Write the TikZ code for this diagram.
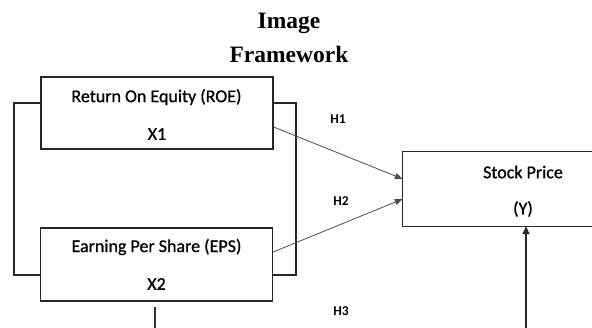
\documentclass[tikz,border=0pt]{standalone}
\usepackage{fontspec}
\setmainfont{Carlito}
\newfontfamily\boxfont[FakeBold=0.9]{Carlito}
\newfontfamily\titlefont{Liberation Serif}
\usetikzlibrary{arrows.meta,calc}
\tikzset{
  varbox/.style={draw=black!85, line width=1.2pt, minimum width=232pt, minimum height=72pt, inner sep=0pt},
  boxtext/.style={font=\boxfont\fontsize{18}{20}\selectfont, inner sep=0pt},
  hlabel/.style={font=\bfseries\fontsize{13.5}{15}\selectfont, inner sep=0pt},
  titletext/.style={font=\titlefont\bfseries\fontsize{23.5}{26}\selectfont, inner sep=0pt},
  bracket/.style={draw=black!85, line width=1.2pt},
  thinarrow/.style={draw=black!70, line width=0.8pt, -{Triangle[length=8pt,width=6pt]}},
  thickarrow/.style={draw=black!85, line width=1.4pt, -{Triangle[length=8pt,width=7pt]}}
}
\begin{document}
\begin{tikzpicture}[x=1pt,y=-1pt]
\useasboundingbox (0,0) rectangle (592,328);
% title
\node[titletext] (t1) at (289,23) {Image};
\node[titletext] (t2) at (289,54) {Framework};
% boxes
\node[varbox] (roe) at (157,113) {};
\node[varbox, minimum height=73pt] (eps) at (156.5,264.5) {};
\node[boxtext] (roet) at (156.5,97) {Return On Equity (ROE)};
\node[boxtext] (x1) at (157,134) {X1};
\node[boxtext] (epst) at (156.5,247) {Earning Per Share (EPS)};
\node[boxtext] (x2) at (156.5,284) {X2};
% stock price box (right edge cut by the page)
\node[minimum width=240pt, minimum height=74pt, inner sep=0pt] (stock) at (523,189) {};
\draw[draw=black!85, line width=1.2pt] (592,0 |- stock.north) -- (stock.north west) -- (stock.south west) -- (592,0 |- stock.south);
\node[boxtext] (sp) at (523,172) {Stock Price};
\node[boxtext] (y) at (523,209) {(Y)};
% brackets
\draw[bracket] (roe.west |- 0,103) -- (14,103) -- (14,275) -- (eps.west |- 0,275);
\draw[bracket] (roe.east |- 0,103) -- (296,103) -- (296,275) -- (eps.east |- 0,275);
% arrows
\draw[thinarrow] ($(roe.east)+(0,14)$) -- ($(stock.west)+(0,-10)$);
\draw[thinarrow] ($(eps.east)+(0,-12.5)$) -- ($(stock.west)+(0,10)$);
\coordinate (ybot) at (526,328);
\draw[thickarrow] (ybot) -- (ybot |- stock.south);
\coordinate (epsbot) at (155,328);
\draw[draw=black!80, line width=1.2pt] (epsbot |- 0,307) -- (epsbot);
% hypothesis labels
\node[hlabel] (h1) at (338,119) {H1};
\node[hlabel] (h2) at (341,201) {H2};
\node[hlabel] (h3) at (341,311) {H3};
\end{tikzpicture}
\end{document}
